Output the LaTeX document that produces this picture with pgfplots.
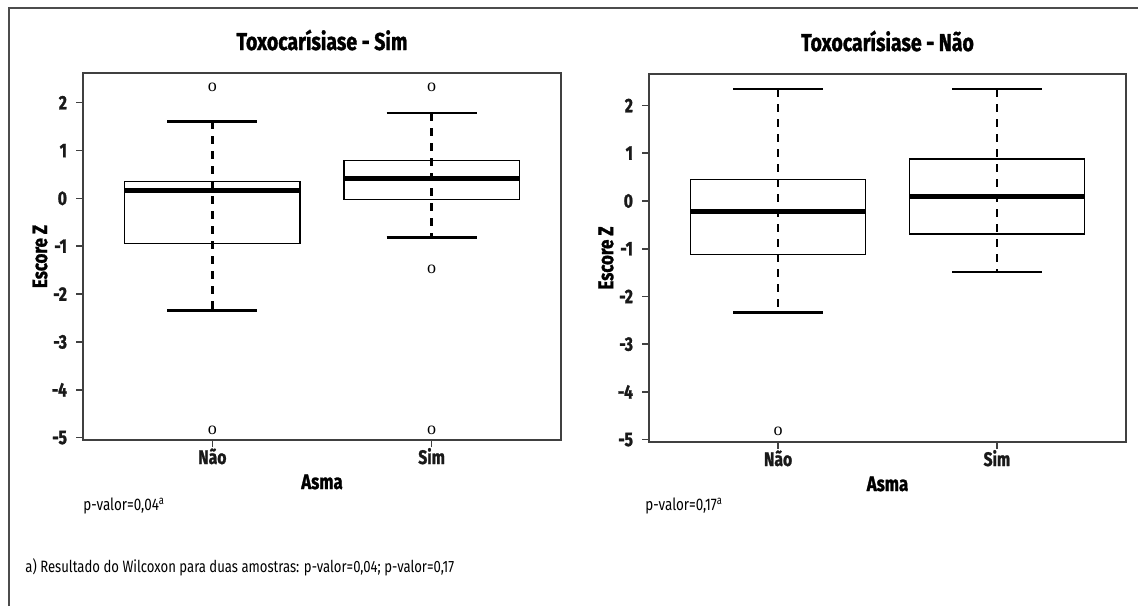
\documentclass[border=0pt]{standalone}
\usepackage{fontspec}
\setmainfont{Fira Sans}[FakeStretch=0.80, BoldFeatures={FakeBold=1.3}]
\newfontfamily\serifo{Liberation Serif}
\usepackage{pgfplots}
\pgfplotsset{compat=1.18}
\usepgfplotslibrary{statistics}

\pgfplotsset{
  zbox/.style={
    scale only axis,
    xmin=0.41, xmax=2.59,
    ymin=-5.05,
    xtick={1,2}, xticklabels={Não,Sim},
    ytick={-5,-4,-3,-2,-1,0,1,2},
    yticklabels={-5,-4,-3,-2,-1,0,1,2},
    tick align=outside,
    xtick pos=bottom, ytick pos=left,
    major tick length=3.5pt,
    axis line style={line width=0.8pt, draw=black!75},
    every tick/.style={line width=0.8pt, draw=black!75},
    ticklabel style={font=\bfseries\fontsize{9.8}{9.8}\selectfont, text=black!90},
    xticklabel style={anchor=base, yshift=-8.5pt},
    yticklabel style={anchor=east, xshift=-1pt},
    title style={font=\bfseries\fontsize{12.2}{12.2}\selectfont, at={(axis description cs:0.5,1)}, anchor=base, yshift=5.5pt},
    every axis x label/.style={at={(axis description cs:0.5,0)}, anchor=base, yshift=-24.5pt, font=\bfseries\fontsize{10.5}{10.5}\selectfont},
    every axis y label/.style={at={(axis description cs:-0.09,0.5)}, rotate=90, anchor=center, font=\bfseries\fontsize{10.5}{10.5}\selectfont},
    xlabel={Asma}, ylabel={Escore Z},
    boxplot/draw direction=y,
    boxplot/box extend=0.8,
    boxplot/whisker extend=0.41,
    boxplot/every box/.style={draw=black, line width=0.65pt},
    boxplot/every median/.style={line width=2.4pt, draw=black},
    boxplot/draw/lower whisker/.code={%
      \draw[black, line width=1.2pt, dash pattern=on 4pt off 3.5pt]
        (boxplot whisker cs:\pgfplotsboxplotvalue{upper whisker},0.5) --
        (boxplot whisker cs:\pgfplotsboxplotvalue{lower whisker},0.5);
      \draw[black, line width=1.2pt]
        (boxplot whisker cs:\pgfplotsboxplotvalue{lower whisker},0) --
        (boxplot whisker cs:\pgfplotsboxplotvalue{lower whisker},1);
    },
    boxplot/draw/upper whisker/.code={%
      \draw[black, line width=1.2pt]
        (boxplot whisker cs:\pgfplotsboxplotvalue{upper whisker},0) --
        (boxplot whisker cs:\pgfplotsboxplotvalue{upper whisker},1);
    },
  },
  omark/.style={black, mark=text, text mark={\serifo\fontsize{9}{9}\selectfont o}},
}

\begin{document}
\begin{tikzpicture}
\useasboundingbox (0,0) rectangle (569pt,-303pt);
\draw[line width=0.8pt, black!70] (4.5pt,-303pt) -- (4.5pt,-4pt) -- (569pt,-4pt);

% Left panel: Toxocarisiase - Sim
\begin{axis}[zbox, at={(41.5pt,-220pt)}, anchor=south west,
  width=239pt, height=183.5pt, ymax=2.62,
  title={Toxocarísiase - Sim}]
\addplot[omark, boxplot prepared={draw position=1,
  lower whisker=-2.34, lower quartile=-0.95, median=0.17,
  upper quartile=0.35, upper whisker=1.61}]
  table[row sep=\\, y index=0] {data\\ 2.33\\ -4.84\\};
\addplot[omark, boxplot prepared={draw position=2,
  lower whisker=-0.82, lower quartile=-0.03, median=0.42,
  upper quartile=0.79, upper whisker=1.78}]
  table[row sep=\\, y index=0] {data\\ 2.31\\ -1.49\\ -4.85\\};
\end{axis}

% Right panel: Toxocarisiase - Nao
\begin{axis}[zbox, at={(324.5pt,-221pt)}, anchor=south west,
  width=238.5pt, height=184pt, ymax=2.66,
  title={Toxocarísiase - Não}]
\addplot[omark, boxplot prepared={draw position=1,
  lower whisker=-2.34, lower quartile=-1.12, median=-0.22,
  upper quartile=0.45, upper whisker=2.34}]
  table[row sep=\\, y index=0] {data\\ -4.82\\};
\addplot[omark, boxplot prepared={draw position=2,
  lower whisker=-1.49, lower quartile=-0.69, median=0.09,
  upper quartile=0.88, upper whisker=2.34}]
  table[row sep=\\, y index=0] {data\\};
\end{axis}

\node[anchor=base west, font=\fontsize{8.4}{8.4}\selectfont, inner sep=0pt] at (41.5pt,-255pt) {p-valor=0,04\textsuperscript{a}};
\node[anchor=base west, font=\fontsize{8.4}{8.4}\selectfont, inner sep=0pt] at (322.5pt,-255pt) {p-valor=0,17\textsuperscript{a}};
\node[anchor=base west, font=\fontsize{8.2}{8.2}\selectfont, inner sep=0pt] at (12.5pt,-286pt) {a) Resultado do Wilcoxon para duas amostras: p-valor=0,04; p-valor=0,17};
\end{tikzpicture}
\end{document}
